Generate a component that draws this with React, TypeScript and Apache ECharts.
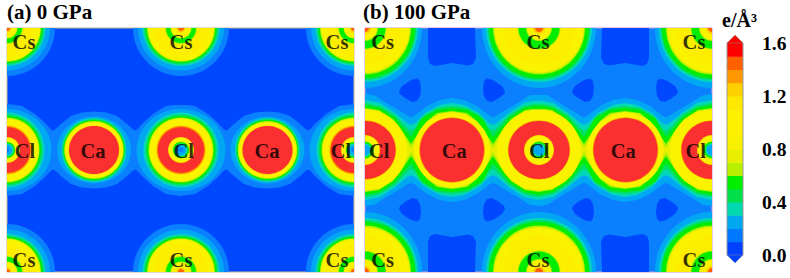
import React, { useEffect, useRef } from "react";
import * as echarts from "echarts";

// density bands, 0.1 e/Å³ wide, bottom to top of the colour bar
const bandLower = [0, 0.1, 0.2, 0.3, 0.4, 0.5, 0.6, 0.7, 0.8, 0.9, 1.0, 1.1, 1.2, 1.3, 1.4, 1.5];
const barColors = ["#0040ff", "#0078ff", "#00a8f0", "#00d8b0", "#00e048", "#00f000", "#b8f000", "#e8f000", "#f8f000", "#fff000", "#fff000", "#ffe800", "#ffd000", "#ff9800", "#ff6000", "#ff0000"];
const mapColors = ["#0048ff", "#0a80ff", "#00a8f4", "#00d8b8", "#00e060", "#00ec00", "#b0f000", "#e8f000", "#fbf200", "#fff000", "#fff000", "#fdee00", "#ffd000", "#ff9800", "#ff6000", "#fa3030"];
const tickLabels = [0, 0.4, 0.8, 1.2, 1.6];

// atom sites in panel coordinates
const csSites = [[0, 0], [174, 0], [347, 0], [0, 244], [174, 244], [347, 244]];
const clSites = [[0, 122], [174, 122], [347, 122]];
const caSites = [[87, 122], [260.5, 122]];

// atom labels
const labelsA = [
  ["Cs", 17, 14], ["Cs", 174, 14], ["Cs", 330, 14], ["Cs", 17, 232], ["Cs", 174, 232], ["Cs", 330, 232],
  ["Cl", 18, 122.5], ["Cl", 176.7, 122.5], ["Cl", 334, 122.5], ["Ca", 86, 122.5], ["Ca", 260, 122.5],
];
const labelsB = [
  ["Cs", 17.7, 14.3], ["Cs", 173, 14.3], ["Cs", 329, 14.3], ["Cs", 17.7, 232], ["Cs", 173, 232], ["Cs", 329, 232],
  ["Cl", 14.3, 122.7], ["Cl", 174.3, 122.7], ["Cl", 330.7, 122.7], ["Ca", 89.3, 122.7], ["Ca", 258.3, 122.7],
];

// contour extents read per atom: [band, x radius, y radius]
const aCsRise = [[1, 48, 48], [2, 43, 42.5], [3, 38.5, 38], [4, 37, 36.5], [5, 35.5, 35], [6, 34, 33.8], [7, 33.2, 33], [8, 32.5, 32.5], [11, 27, 27]];
const aCsHole = [[6, 16, 16], [5, 15, 15], [6, 10.5, 10.5], [8, 10, 10], [12, 4.5, 4.5], [14, 3, 3]];
const aClRise = [[2, 44.5, 41], [3, 37.5, 37.5], [4, 35.5, 35.5], [5, 34, 34], [6, 32.5, 32.5], [7, 31.8, 31.8], [8, 31, 31], [12, 25, 24.5], [13, 24, 24], [14, 23.5, 23.2], [15, 23, 22.5]];
const aClHole = [[12, 13, 13], [8, 12.3, 12.3], [6, 8.5, 8.5], [5, 8, 8], [3, 6.5, 6.5], [2, 5, 5], [1, 2.5, 2.5]];
const aCaRise = [[2, 37, 33.5], [3, 32.5, 32], [4, 31.5, 31], [5, 30.5, 30], [6, 29.8, 29], [8, 29, 28], [12, 25.6, 24.6], [15, 25, 24]];

const bCsRise = [[2, 57, 60], [3, 53, 54], [4, 51, 52], [5, 50, 50], [6, 46, 46.5], [7, 45, 45], [8, 44, 44], [11, 36, 36]];
const bCsHole = [[6, 21.5, 21.5], [5, 20.5, 20.5], [6, 13, 13], [8, 12, 12], [12, 6, 6], [14, 4, 4]];
const bClRise = [[8, 42, 40], [12, 31.2, 29.6], [13, 31, 29.4], [15, 30.5, 29]];
const bClHole = [[12, 15, 15], [8, 14.3, 14.3], [6, 9, 9], [5, 8.2, 8.2], [3, 6.5, 6.5], [2, 5.3, 5.3]];
const bCaRise = [[8, 38, 37.5], [12, 33, 32.8], [13, 32.6, 32.5], [15, 32, 32]];

// upper edge of the merged middle row, from the Cl site (x 0) to the Ca site (x 87)
const aWave = [
  { band: 1, edge: [[0, 76], [15, 78], [28, 86], [38, 95], [44, 101.5], [46, 102.5], [48, 101.5], [54, 96], [64, 88], [75, 84.5], [87, 83.5]] },
];
const bWave = [
  { band: 2, edge: [[0, 66], [10, 67.5], [18, 73], [35, 83], [43, 88], [46, 89.5], [49, 88], [62, 78], [75, 72], [87, 70]] },
  { band: 3, edge: [[0, 72], [15, 75], [30, 85], [42, 95], [46, 97], [50, 95], [60, 85], [75, 77], [87, 75]] },
  { band: 4, edge: [[0, 75], [15, 78], [30, 87], [42, 100], [46, 103], [50, 100], [58, 88], [72, 80], [87, 78]] },
  { band: 5, edge: [[0, 77], [15, 80], [30, 90], [40, 102], [46, 109], [50, 103], [56, 91], [72, 82], [87, 80]] },
  { band: 6, edge: [[0, 80], [14, 82], [28, 91], [38, 104], [46, 116], [54, 104], [62, 93], [72, 85], [87, 83]] },
  { band: 7, edge: [[0, 81], [14, 83], [28, 92], [36, 104], [41, 112], [46, 120], [51, 112], [57, 103], [64, 93], [74, 86], [87, 84]] },
];

// low-density pockets of panel (b), one outline each
const bPocketSquare = [[63, 0], [63, 30], [65, 36], [70, 38], [87, 35], [103, 37.5], [108, 36], [111, 30], [110, 0]];
const bPocketLeft = [[34, 63], [37, 58], [46, 52], [52, 50.5], [55, 53], [56, 60], [55, 68], [52, 73], [47, 74], [40, 70], [35, 66]];

type Shape = { band: number; pts?: number[][]; e?: number[] };

const flipX = (p: number[][]) => p.map(([x, y]) => [347 - x, y]);
const flipY = (p: number[][]) => p.map(([x, y]) => [x, 244 - y]);

function waveOutline(edge: number[][]) {
  const half = [...edge, ...edge.slice().reverse().map(([x, y]) => [174 - x, y])];
  const top = [...half, ...half.slice().reverse().map(([x, y]) => [347 - x, y])];
  return [...top, ...top.slice().reverse().map(([x, y]) => [x, 244 - y])];
}

function buildShapes(
  wave: { band: number; edge: number[][] }[],
  rises: [number[][], number[][]][],
  holes: [number[][], number[][]][],
  pockets: number[][][],
) {
  const out: Shape[] = [];
  pockets.forEach((p) => out.push({ band: 0, pts: p }));
  for (let band = 1; band < 16; band++) {
    wave.filter((w) => w.band === band).forEach((w) => out.push({ band, pts: waveOutline(w.edge) }));
    rises.forEach(([sites, rise]) =>
      rise.filter((r) => r[0] === band).forEach((r) =>
        sites.forEach(([x, y]) => out.push({ band, e: [x, y, r[1], r[2]] })),
      ),
    );
  }
  holes.forEach(([sites, hole]) =>
    hole.forEach((r) => sites.forEach(([x, y]) => out.push({ band: r[0], e: [x, y, r[1], r[2]] }))),
  );
  return out;
}

const shapesA = buildShapes(aWave, [[csSites, aCsRise], [clSites, aClRise], [caSites, aCaRise]], [[csSites, aCsHole], [clSites, aClHole]], []);

const pocketBase = [bPocketSquare, bPocketLeft, bPocketLeft.map(([x, y]) => [174 - x, y])];
const pocketsB = pocketBase.flatMap((p) => [p, flipX(p), flipY(p), flipY(flipX(p))]);
const shapesB = buildShapes(bWave, [[csSites, bCsRise], [clSites, bClRise], [caSites, bCaRise]], [[csSites, bCsHole], [clSites, bClHole]], pocketsB);

function contourRender(shapes: Shape[]) {
  return (params: any, api: any) => {
    const s = shapes[params.dataIndex];
    const style = { fill: mapColors[s.band], stroke: null };
    if (s.pts) {
      return { type: "polygon", shape: { points: s.pts.map((p) => api.coord(p)) }, style };
    }
    const [cx, cy] = api.coord([s.e![0], s.e![1]]);
    const [rx, ry] = api.size([s.e![2], s.e![3]]);
    return { type: "ellipse", shape: { cx, cy, rx, ry }, style };
  };
}

const serif = "'Liberation Serif', 'Times New Roman', serif";

function atomSeries(labels: (string | number)[][], axisIndex: number) {
  return {
    type: "scatter",
    xAxisIndex: axisIndex,
    yAxisIndex: axisIndex,
    symbolSize: 1,
    itemStyle: { color: "rgba(0,0,0,0)" },
    z: 5,
    silent: true,
    clip: false,
    data: labels.map((l) => ({ name: l[0], value: [l[1], l[2]] })),
    label: {
      show: true,
      position: "inside",
      formatter: "{b}",
      color: "#000",
      fontFamily: serif,
      fontWeight: "bold",
      fontSize: 20.5,
    },
  };
}

const plainAxis = (max: number, inverse = false) => ({ type: "value", min: 0, max, show: false, inverse });

export default function App() {
  const ref = useRef<HTMLDivElement>(null);
  useEffect(() => {
    const chart = echarts.init(ref.current!, null, { renderer: "svg" });
    const titleStyle = { fontFamily: serif, fontWeight: "bold", fontSize: 21, color: "#000" };
    chart.setOption({
      animation: false,
      backgroundColor: "#fff",
      title: [
        { text: "(a) 0 GPa", left: 7, top: 1, padding: 0, textStyle: titleStyle },
        { text: "(b) 100 GPa", left: 363, top: 1, padding: 0, textStyle: titleStyle },
        { text: "e/Å³", left: 722, top: 10, padding: 0, textStyle: { ...titleStyle, fontSize: 20 } },
      ],
      grid: [
        { left: 7, top: 28, width: 347, height: 244, show: true, backgroundColor: mapColors[0], borderColor: "#c8b890", borderWidth: 1 },
        { left: 365, top: 28, width: 347, height: 244, show: true, backgroundColor: mapColors[1], borderColor: "#c898d8", borderWidth: 1 },
        { left: 727, top: 43, width: 16, height: 212 },
      ],
      xAxis: [
        { ...plainAxis(347), gridIndex: 0 },
        { ...plainAxis(347), gridIndex: 1 },
        { ...plainAxis(1), gridIndex: 2 },
      ],
      yAxis: [
        { ...plainAxis(244, true), gridIndex: 0 },
        { ...plainAxis(244, true), gridIndex: 1 },
        {
          type: "value",
          gridIndex: 2,
          min: tickLabels[0],
          max: tickLabels[tickLabels.length - 1],
          interval: 0.4,
          position: "right",
          offset: 2,
          splitLine: { show: false },
          axisLine: { show: false },
          axisTick: { show: true, length: 7, lineStyle: { color: "#aaa", width: 2 } },
          axisLabel: {
            margin: 17,
            color: "#000",
            fontFamily: serif,
            fontWeight: "bold",
            fontSize: 19.5,
            formatter: (v: number) => v.toFixed(1),
          },
        },
      ],
      series: [
        {
          type: "custom",
          xAxisIndex: 0,
          yAxisIndex: 0,
          clip: true,
          silent: true,
          renderItem: contourRender(shapesA),
          data: shapesA.map((_, i) => [i]),
        },
        {
          type: "custom",
          xAxisIndex: 1,
          yAxisIndex: 1,
          clip: true,
          silent: true,
          renderItem: contourRender(shapesB),
          data: shapesB.map((_, i) => [i]),
        },
        atomSeries(labelsA, 0),
        atomSeries(labelsB, 1),
        {
          type: "custom",
          xAxisIndex: 2,
          yAxisIndex: 2,
          silent: true,
          clip: false,
          renderItem: (params: any, api: any) => {
            const low = bandLower[params.dataIndex];
            const [x0, y0] = api.coord([0, low]);
            const [x1, y1] = api.coord([1, low + 0.1]);
            const children: any[] = [
              {
                type: "rect",
                shape: { x: x0, y: y1, width: x1 - x0, height: y0 - y1 + 0.5 },
                style: { fill: barColors[params.dataIndex], stroke: null },
              },
            ];
            const tip = low === 0 ? -0.06 : low === 1.5 ? 1.66 : null;
            if (tip !== null) {
              const base = tip < 0 ? y0 : y1;
              const [xm, ym] = api.coord([0.5, tip]);
              children.push({
                type: "polygon",
                shape: { points: [[x0, base], [x1, base], [xm, ym]] },
                style: { fill: barColors[params.dataIndex], stroke: "#888", lineWidth: 0.5 },
              });
            }
            children.push(
              { type: "line", shape: { x1: x0, y1: y0, x2: x0, y2: y1 }, style: { stroke: "#999", lineWidth: 1 } },
              { type: "line", shape: { x1: x1, y1: y0, x2: x1, y2: y1 }, style: { stroke: "#999", lineWidth: 1 } },
            );
            return { type: "group", children };
          },
          data: bandLower.map((v) => [0.5, v]),
        },
      ],
    });
    return () => chart.dispose();
  }, []);
  return <div ref={ref} style={{ position: "absolute", left: 0, top: 0, width: 790, height: 278 }} />;
}
